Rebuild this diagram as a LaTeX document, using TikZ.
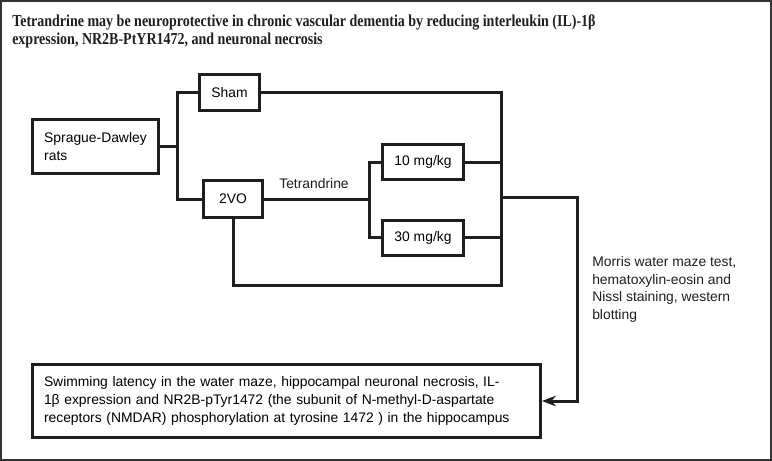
\documentclass[tikz,border=0pt]{standalone}
\usepackage{fontspec}
\setmainfont{Liberation Sans}
\newfontfamily\titlefont[FakeStretch=0.84]{Liberation Serif}
\usepackage{tikz}
\usetikzlibrary{arrows.meta}
\definecolor{ink}{HTML}{1E1E1E}
\definecolor{rim}{HTML}{333333}
\tikzset{
  frame/.style={draw=rim, line width=1.5pt},
  box/.style={draw=ink, line width=2.25pt, inner sep=0pt, font=\fontsize{10.4}{13.3}\selectfont},
  wire/.style={draw=ink, line width=2.25pt},
  lbl/.style={text=ink, inner sep=0pt, font=\fontsize{10.4}{13.3}\selectfont},
  head/.style={text=ink, inner sep=0pt, align=left, font=\titlefont\bfseries\fontsize{12.5}{13.5}\selectfont}
}

\begin{document}
\begin{tikzpicture}[x=0.75pt,y=-0.75pt]
\useasboundingbox (0,0) rectangle (772,461);
\draw[frame] (1,1) rectangle (771,460);
\node[head, anchor=north west] (title) at (12,14)
  {Tetrandrine may be neuroprotective in chronic vascular dementia by reducing interleukin (IL)-1β\\
   expression, NR2B-PtYR1472, and neuronal necrosis};

% groups
\node[box, minimum width=94.5pt, minimum height=40.5pt, align=left] (rats) at (95.5,146.5) {Sprague-Dawley\\rats};
\node[box, minimum width=45pt, minimum height=27pt] (sham) at (229.5,92.5) {Sham};
\node[box, minimum width=44.25pt, minimum height=27.75pt] (vo) at (233,199) {2VO};
\node[box, minimum width=60.75pt, minimum height=26.25pt] (d10) at (423,162) {10 mg/kg};
\node[box, minimum width=60.75pt, minimum height=26.25pt] (d30) at (423,237.5) {30 mg/kg};
\node[lbl] (drug) at (314,184) {Tetrandrine};

% outcome
\node[box, text width=363.75pt, inner xsep=8.6pt, minimum height=54.75pt, align=left] (result) at (286.5,401)
  {Swimming latency in the water maze, hippocampal neuronal necrosis, IL-\\
   1β expression and NR2B-pTyr1472 (the subunit of N-methyl-D-aspartate\\
   receptors (NMDAR) phosphorylation at tyrosine 1472 ) in the hippocampus};
\node[lbl, anchor=west, align=left] (tests) at (592,289.5)
  {Morris water maze test,\\ hematoxylin-eosin and\\ Nissl staining, western\\ blotting};

\coordinate (fork1) at (177,146.5);
\coordinate (fork2) at (369,199);
\coordinate (rbot) at (501,285);
\coordinate (out) at (501,197);
\coordinate (turn) at (577,197);

% wires
\draw[wire] (rats.east) -- (fork1);
\draw[wire] (sham.west) -| (fork1) |- (vo.west);
\draw[wire] (sham.east) -| (rbot) -| (vo.south);
\draw[wire] (vo.east) -- (fork2);
\draw[wire] (d10.west) -| (fork2) |- (d30.west);
\draw[wire] (d10.east) -- (d10.east -| rbot);
\draw[wire] (d30.east) -- (d30.east -| rbot);
\draw[wire, -{Stealth[length=10.5pt, width=8pt]}] (out) -- (turn) |- (result.east);
\end{tikzpicture}
\end{document}
